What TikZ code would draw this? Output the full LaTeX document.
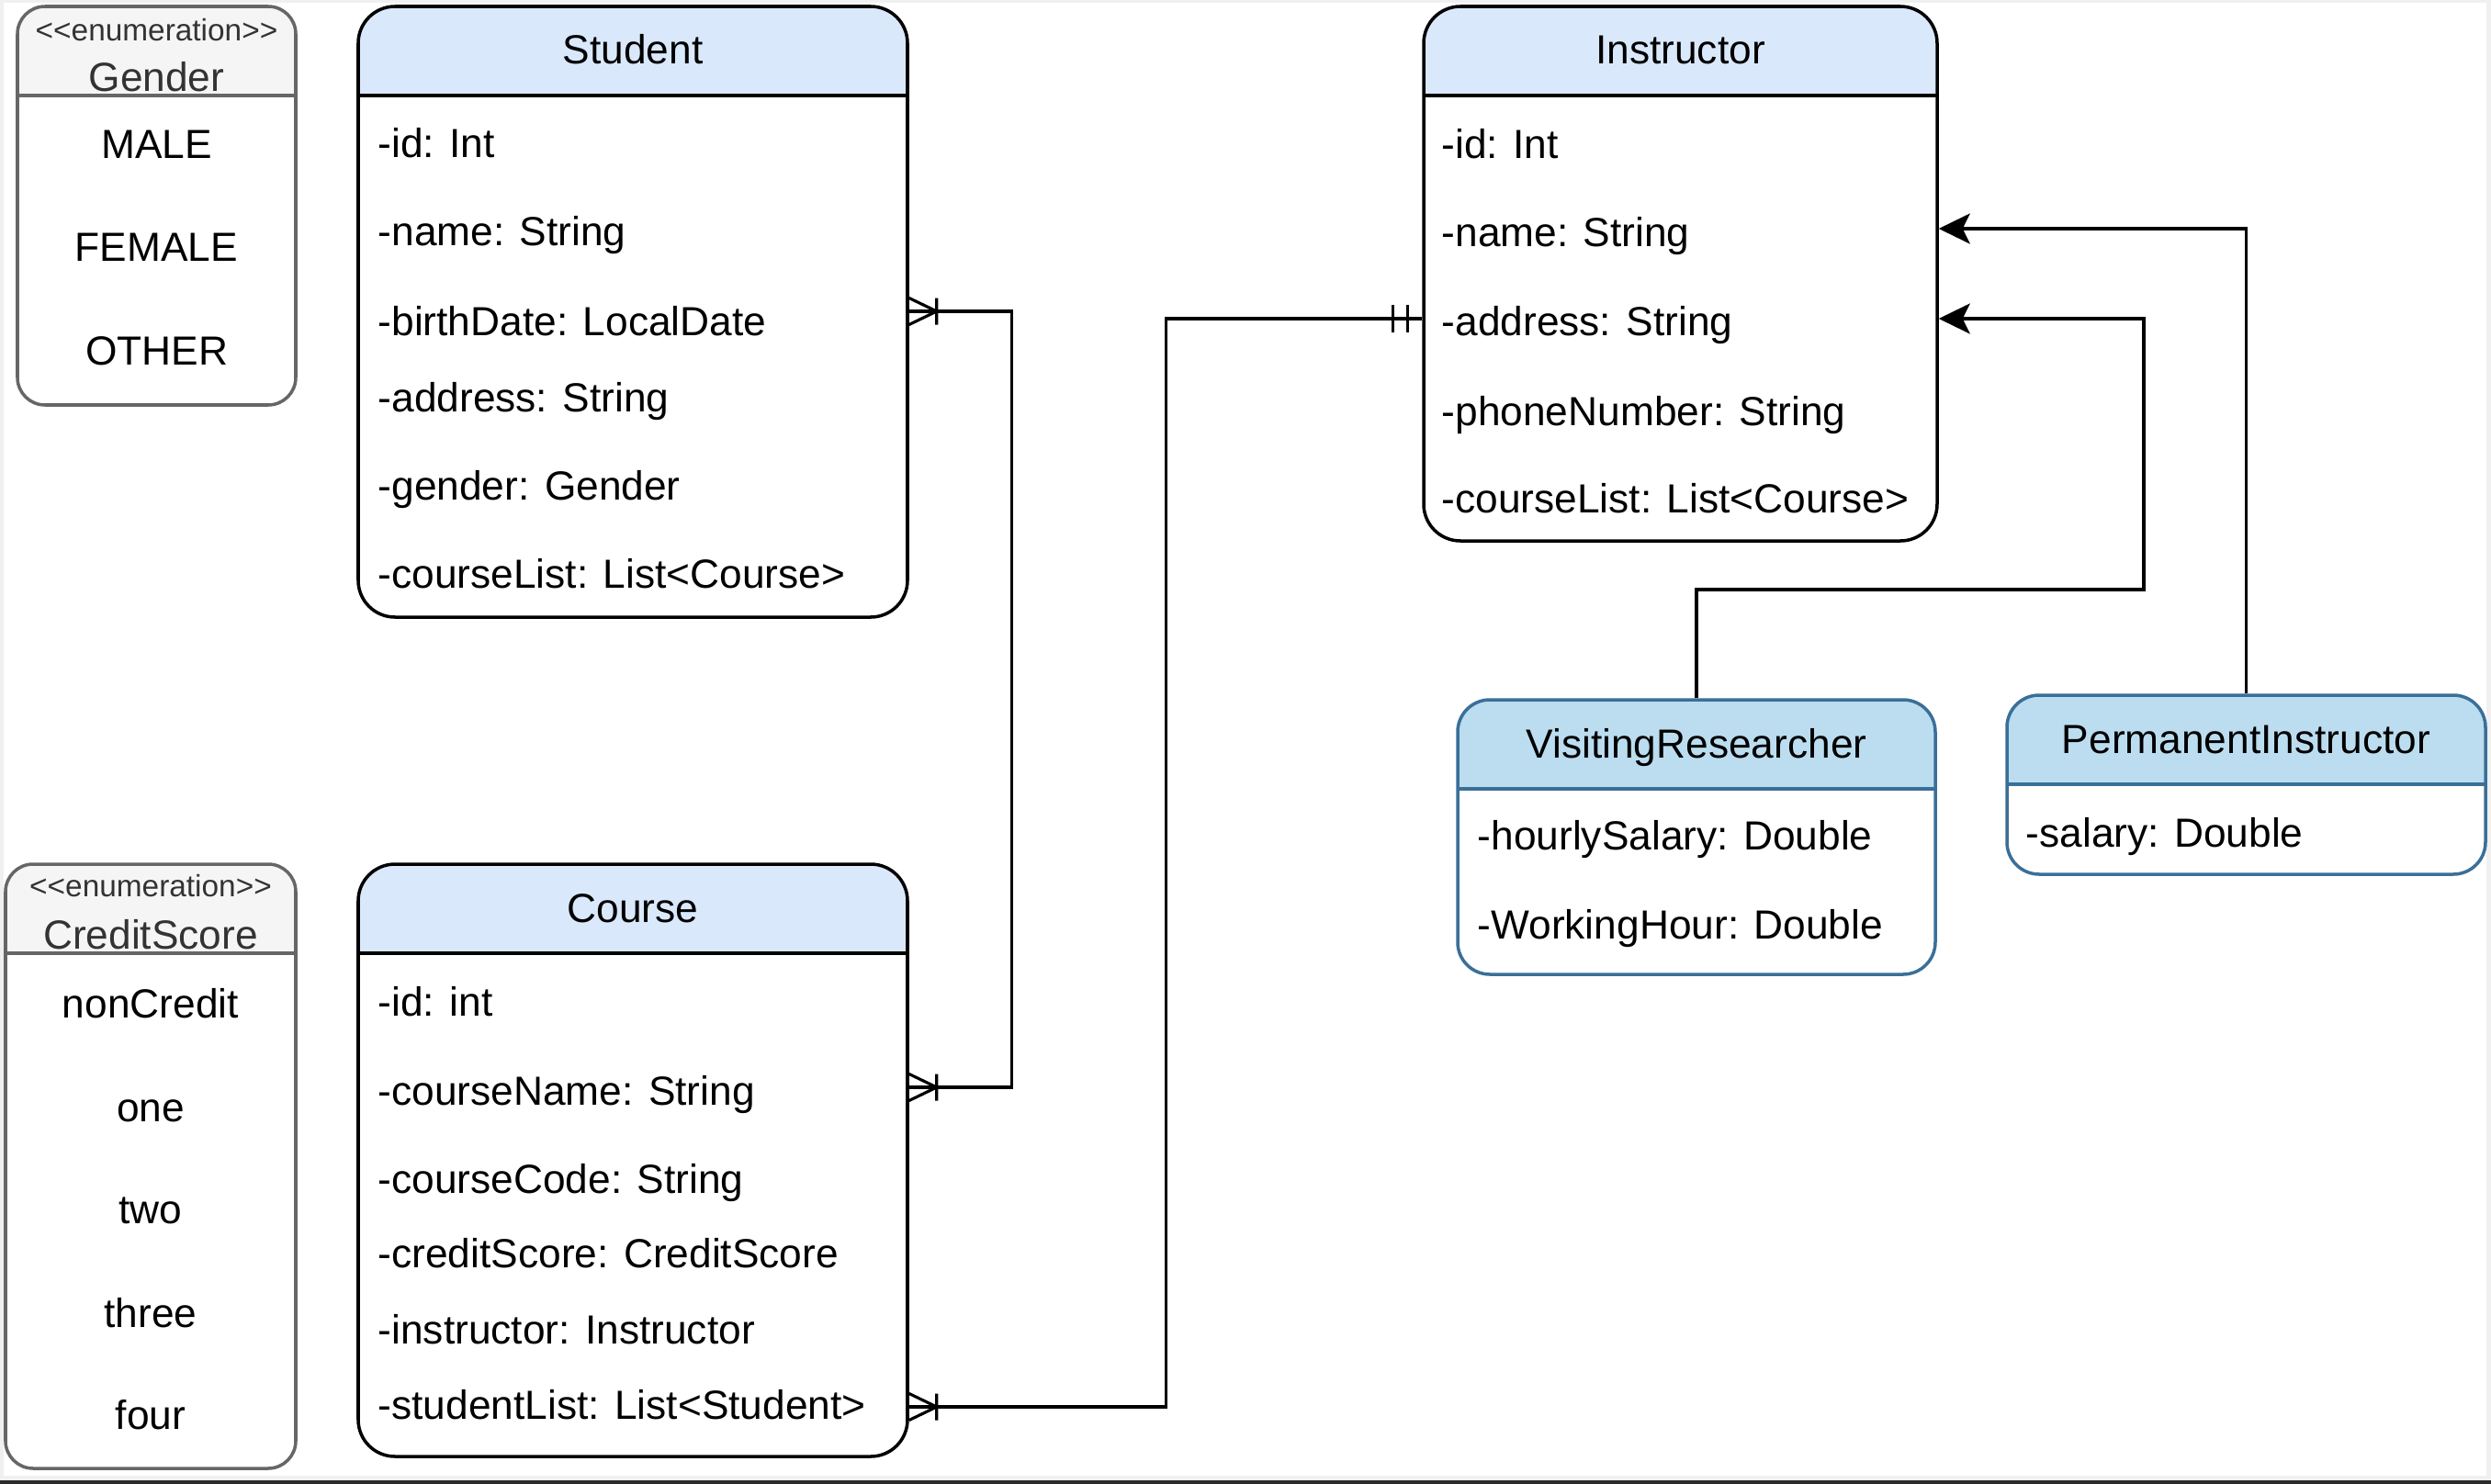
\documentclass[tikz,border=0pt]{standalone}
\usepackage{fontspec}
\setmainfont{Liberation Sans}
\usetikzlibrary{arrows.meta,calc}

\definecolor{hdrblue}{HTML}{DAE8FC}
\definecolor{hdrsky}{RGB}{187,221,239}
\definecolor{skyline}{RGB}{58,111,152}
\definecolor{enumfill}{HTML}{F5F5F5}
\definecolor{enumline}{HTML}{666666}
\definecolor{enumtext}{HTML}{333333}
\definecolor{pagegrey}{HTML}{F0F0F0}
\definecolor{stripgrey}{HTML}{2B2B2B}

\tikzset{
  classbox/.style 2 args={draw=#2, fill=white, line width=1pt, rounded corners=0.4cm, inner sep=0pt,
    path picture={
      \fill[#1, sharp corners] (path picture bounding box.north west) rectangle ([yshift=-0.97cm]path picture bounding box.north east);
      \draw[#2, line width=1pt, sharp corners] ([yshift=-0.97cm]path picture bounding box.north west) -- ([yshift=-0.97cm]path picture bounding box.north east);
    }},
}

\begin{document}
\begin{tikzpicture}[font=\fontsize{12.6pt}{15pt}\selectfont,
  attr/.style={anchor=west, inner sep=0pt, text height=0.315cm, text depth=0pt},
  clsname/.style={inner sep=0pt, text height=0.315cm, text depth=0pt},
  stereo/.style={inner sep=0pt, text height=0.24cm, text depth=0pt, font=\fontsize{9.5pt}{11pt}\selectfont, text=enumtext},
  link/.style={line width=0.9pt},
  isa/.style={link, -{Stealth[length=0.34cm, width=0.33cm, inset=0.08cm]}}]
%\draw[style=help lines] (0,-16) grid (27,0);

% background
\fill[pagegrey] (0,0) rectangle (27.12,-16.16);
\fill[white] (0.04,-0.03) rectangle (27.07,-16.07);
\fill[stripgrey] (0,-16.12) rectangle (27.12,-16.16);

% Gender
\node[classbox={enumfill}{enumline}, rounded corners=0.3cm, minimum width=3.03cm, minimum height=4.34cm] (gen) at (1.705,-2.24) {};
	\node[stereo] (genst) at (1.705,-0.32) {<{}<enumeration>{}>};
	\node[clsname, text=enumtext] (genname) at (1.705,-0.84) {Gender};
	\node[clsname] (male) at (1.705,-1.57) {MALE};
	\node[clsname] (female) at (1.705,-2.69) {FEMALE};
	\node[clsname] (other) at (1.705,-3.82) {OTHER};

% CreditScore
\node[classbox={enumfill}{enumline}, rounded corners=0.3cm, minimum width=3.16cm, minimum height=6.58cm] (cs) at (1.64,-12.70) {};
	\node[stereo] (csst) at (1.64,-9.64) {<{}<enumeration>{}>};
	\node[clsname, text=enumtext] (csname) at (1.64,-10.18) {CreditScore};
	\node[clsname] (noncr) at (1.64,-10.93) {nonCredit};
	\node[clsname] (one) at (1.64,-12.06) {one};
	\node[clsname] (two) at (1.64,-13.17) {two};
	\node[clsname] (three) at (1.64,-14.30) {three};
	\node[clsname] (four) at (1.64,-15.41) {four};

% Student
\node[classbox={hdrblue}{black}, minimum width=5.98cm, minimum height=6.65cm] (stu) at (6.89,-3.395) {};
	\node[clsname] (stuname) at (6.89,-0.54) {Student};
	\node[attr] (sid) at (4.11,-1.56) {-id: Int};
	\node[attr] (sname) at (4.11,-2.52) {-name: String};
	\node[attr] (sbirth) at (4.11,-3.50) {-birthDate: LocalDate};
	\node[attr] (saddr) at (4.11,-4.33) {-address: String};
	\node[attr] (sgender) at (4.11,-5.29) {-gender: Gender};
	\node[attr] (slist) at (4.11,-6.25) {-courseList: List<Course>};

% Course
\node[classbox={hdrblue}{black}, minimum width=5.98cm, minimum height=6.45cm] (crs) at (6.89,-12.635) {};
	\node[clsname] (crsname) at (6.89,-9.89) {Course};
	\node[attr] (cid) at (4.11,-10.91) {-id: int};
	\node[attr] (cname) at (4.11,-11.88) {-courseName: String};
	\node[attr] (ccode) at (4.11,-12.84) {-courseCode: String};
	\node[attr] (ccredit) at (4.11,-13.65) {-creditScore: CreditScore};
	\node[attr] (cinst) at (4.11,-14.48) {-instructor: Instructor};
	\node[attr] (cstud) at (4.11,-15.30) {-studentList: List<Student>};

% Instructor
\node[classbox={hdrblue}{black}, minimum width=5.59cm, minimum height=5.82cm] (ins) at (18.295,-2.98) {};
	\node[clsname] (insname) at (18.295,-0.54) {Instructor};
	\node[attr] (iid) at (15.69,-1.57) {-id: Int};
	\node[attr] (iname) at (15.69,-2.53) {-name: String};
	\node[attr] (iaddr) at (15.69,-3.50) {-address: String};
	\node[attr] (iphone) at (15.69,-4.48) {-phoneNumber: String};
	\node[attr] (ilist) at (15.69,-5.43) {-courseList: List<Course>};

% VisitingResearcher
\node[classbox={hdrsky}{skyline}, rounded corners=0.35cm, minimum width=5.20cm, minimum height=2.99cm] (vis) at (18.47,-9.115) {};
	\node[clsname] (visname) at (18.47,-8.10) {VisitingResearcher};
	\node[attr] (vhour) at (16.08,-9.10) {-hourlySalary: Double};
	\node[attr] (vwork) at (16.08,-10.07) {-WorkingHour: Double};

% PermanentInstructor
\node[classbox={hdrsky}{skyline}, rounded corners=0.35cm, minimum width=5.21cm, minimum height=1.95cm] (per) at (24.455,-8.545) {};
	\node[clsname] (pername) at (24.455,-8.05) {PermanentInstructor};
	\node[attr] (psal) at (22.05,-9.07) {-salary: Double};

% student - course
\coordinate (sfoot) at ($(stu.east |- sbirth)+(0,0.11)$);
\coordinate (cfoot) at ($(crs.east |- cname)+(0,0.04)$);
\draw[link] (sfoot) -- ++(1.12,0) |- (cfoot);
\draw[link] ($(sfoot)+(0,0.145)$) -- ++(0.3,-0.145) -- ++(-0.3,-0.145) ($(sfoot)+(0.3,0.145)$) -- ++(0,-0.29);
\draw[link] ($(cfoot)+(0,0.145)$) -- ++(0.3,-0.145) -- ++(-0.3,-0.145) ($(cfoot)+(0.3,0.145)$) -- ++(0,-0.29);

% course - instructor
\coordinate (sfoot2) at ($(crs.east |- cstud)+(0,-0.02)$);
\coordinate (ibar) at ($(ins.west |- iaddr)+(0,0.03)$);
\draw[link] (sfoot2) -- ++(2.8,0) |- (ibar);
\draw[link] ($(sfoot2)+(0,0.145)$) -- ++(0.3,-0.145) -- ++(-0.3,-0.145) ($(sfoot2)+(0.3,0.145)$) -- ++(0,-0.29);
\draw[link] ($(ibar)+(-0.16,0.15)$) -- ++(0,-0.3) ++(-0.16,0) -- ++(0,0.3);

% inheritance
\coordinate (pend) at ($(ins.east |- iname)+(0,0.04)$);
\coordinate (vend) at ($(ins.east |- iaddr)+(0,0.03)$);
\draw[isa] (per.north) |- (pend);
\coordinate (vbend) at (23.34,-6.42);
\draw[isa] (vis.north) |- (vbend) |- (vend);
\end{tikzpicture}
\end{document}
